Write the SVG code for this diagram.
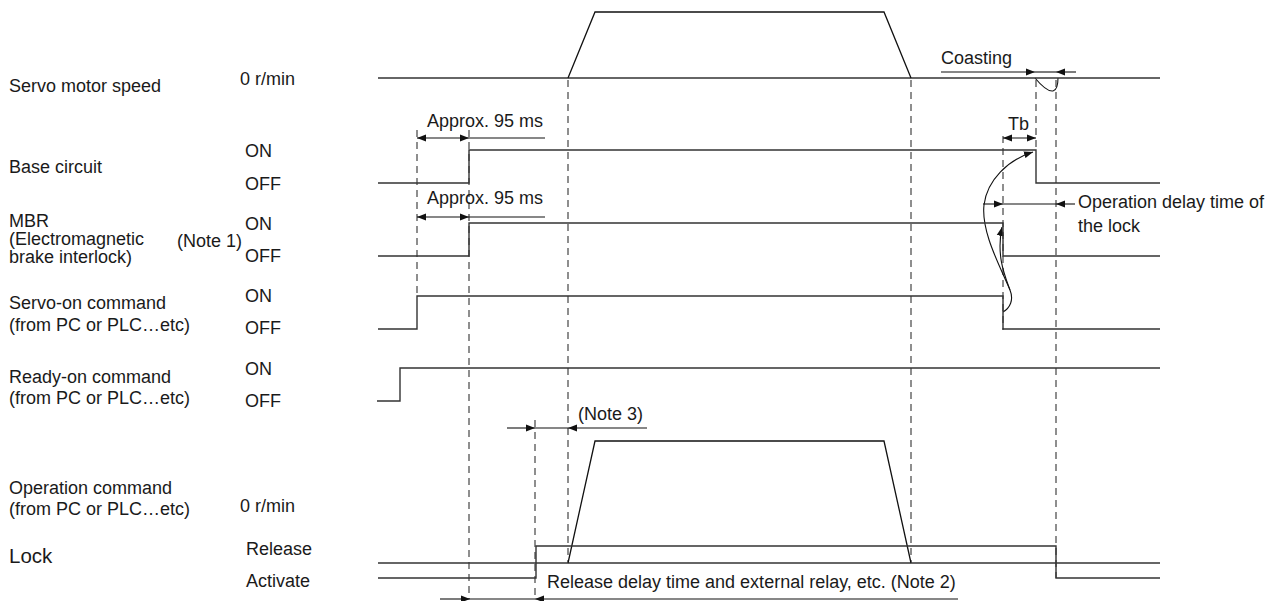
<svg xmlns="http://www.w3.org/2000/svg" width="1280" height="601" viewBox="0 0 1280 601">
<defs>
<marker id="ah" markerUnits="userSpaceOnUse" markerWidth="10" markerHeight="8" refX="9" refY="4" orient="auto-start-reverse"><path d="M0,0.5 L9,4 L0,7.5 z" fill="#111"/></marker>
<style>
text{font-family:"Liberation Sans",Arial,sans-serif;font-size:18px;fill:#1a1a1a}
.big{font-size:20.5px}
.sig{fill:none;stroke:#333;stroke-width:1.4}
.tr{fill:none;stroke:#111;stroke-width:1.3}
.dash{fill:none;stroke:#444;stroke-width:1.2;stroke-dasharray:7,5}
.dim{fill:none;stroke:#111;stroke-width:1.1}
.cv{fill:none;stroke:#111;stroke-width:1.1}
</style>
</defs>
<rect width="1280" height="601" fill="#fff"/>

<g id="connectors">
<line class="dash" x1="417" y1="130" x2="417" y2="296"/>
<line class="dash" x1="469" y1="130" x2="469" y2="599"/>
<line class="dash" x1="568" y1="80" x2="568" y2="562"/>
<line class="dash" x1="911" y1="80" x2="911" y2="562"/>
<line class="dash" x1="535" y1="420" x2="535" y2="599"/>
<line class="dash" x1="1003" y1="136" x2="1003" y2="330"/>
<line class="dash" x1="1036" y1="80" x2="1036" y2="150"/>
<line class="dash" x1="1056" y1="80" x2="1056" y2="578"/>

<!-- Approx 95 ms arrows -->
<line class="dim" x1="417" y1="138" x2="469" y2="138" marker-start="url(#ah)" marker-end="url(#ah)"/>
<line class="dim" x1="469" y1="138" x2="545" y2="138"/>
<line class="dim" x1="417" y1="217" x2="469" y2="217" marker-start="url(#ah)" marker-end="url(#ah)"/>
<line class="dim" x1="469" y1="217" x2="545" y2="217"/>
<!-- Coasting -->
<line class="dim" x1="941" y1="72" x2="1035" y2="72" marker-end="url(#ah)"/>
<line class="dim" x1="1035" y1="72" x2="1056" y2="72"/>
<line class="dim" x1="1076" y1="72" x2="1056" y2="72" marker-end="url(#ah)"/>
<path class="cv" d="M1035,78 C1040,84 1047,92 1053,91 C1057,90 1058,84 1058,78"/>
<!-- Tb -->
<line class="dim" x1="1003" y1="138" x2="1036" y2="138" marker-start="url(#ah)" marker-end="url(#ah)"/>
<!-- Operation delay time -->
<line class="dim" x1="983" y1="204" x2="1003" y2="204" marker-end="url(#ah)"/>
<line class="dim" x1="1003" y1="204" x2="1056" y2="204"/>
<line class="dim" x1="1075" y1="204" x2="1056" y2="204" marker-end="url(#ah)"/>
<!-- Note 3 -->
<line class="dim" x1="507" y1="428" x2="535" y2="428" marker-end="url(#ah)"/>
<line class="dim" x1="535" y1="428" x2="568" y2="428"/>
<line class="dim" x1="647" y1="428" x2="568" y2="428" marker-end="url(#ah)"/>
<!-- Note 2 -->
<line class="dim" x1="440" y1="599" x2="470" y2="599" marker-end="url(#ah)"/>
<line class="dim" x1="470" y1="599" x2="535" y2="599"/>
<line class="dim" x1="958" y1="599" x2="535" y2="599" marker-end="url(#ah)"/>
<!-- causal curves -->
<path class="cv" d="M1003,312 C1010,308 1014,300 1010,290 C1005,276 996,256 1002,227" marker-end="url(#ah)"/>
<path class="cv" d="M1010,290 C1000,266 981,232 984,205 C987,180 1008,160 1033,152" marker-end="url(#ah)"/>
</g>

<g id="servo-motor-speed">
<text x="9" y="92">Servo motor speed</text>
<text x="240" y="85">0 r/min</text>
<line class="sig" x1="378" y1="78" x2="1160" y2="78"/>
<polyline class="tr" points="568,78 595,12 884,12 911,78"/>
<text x="941" y="64">Coasting</text>
<text x="1008" y="130">Tb</text>
</g>

<g id="base-circuit">
<text x="9" y="173">Base circuit</text>
<text x="245" y="157">ON</text>
<text x="245" y="190">OFF</text>
<polyline class="sig" points="378,183 469,183 469,150 1036,150 1036,183 1160,183"/>
<text x="427" y="127">Approx. 95 ms</text>
</g>

<g id="mbr">
<text x="9" y="227">MBR</text>
<text x="9" y="245">(Electromagnetic</text>
<text x="9" y="263">brake interlock)</text>
<text x="177" y="247">(Note 1)</text>
<text x="245" y="230">ON</text>
<text x="245" y="262">OFF</text>
<polyline class="sig" points="378,256 469,256 469,223 1003,223 1003,256 1160,256"/>
<text x="427" y="204">Approx. 95 ms</text>
<text x="1078" y="208">Operation delay time of</text>
<text x="1078" y="232">the lock</text>
</g>

<g id="servo-on">
<text x="9" y="309">Servo-on command</text>
<text x="9" y="331">(from PC or PLC…etc)</text>
<text x="245" y="302">ON</text>
<text x="245" y="334">OFF</text>
<polyline class="sig" points="378,329 417,329 417,296 1003,296 1003,329 1160,329"/>
</g>

<g id="ready-on">
<text x="9" y="383">Ready-on command</text>
<text x="9" y="404">(from PC or PLC…etc)</text>
<text x="245" y="375">ON</text>
<text x="245" y="407">OFF</text>
<polyline class="sig" points="377,401 400,401 400,368 1160,368"/>
</g>

<g id="operation-command">
<text x="9" y="494">Operation command</text>
<text x="9" y="515">(from PC or PLC…etc)</text>
<text x="240" y="512">0 r/min</text>
<line class="sig" x1="378" y1="563" x2="1160" y2="563"/>
<polyline class="tr" points="568,563 595,441 884,441 911,563"/>
<text x="578" y="420">(Note 3)</text>
</g>

<g id="lock">
<text class="big" x="9" y="563">Lock</text>
<text x="246" y="555">Release</text>
<text x="246" y="587">Activate</text>
<polyline class="sig" points="378,578 536,578 536,546 1056,546 1056,578 1160,578"/>
<text x="547" y="588">Release delay time and external relay, etc. (Note 2)</text>
</g>
</svg>
